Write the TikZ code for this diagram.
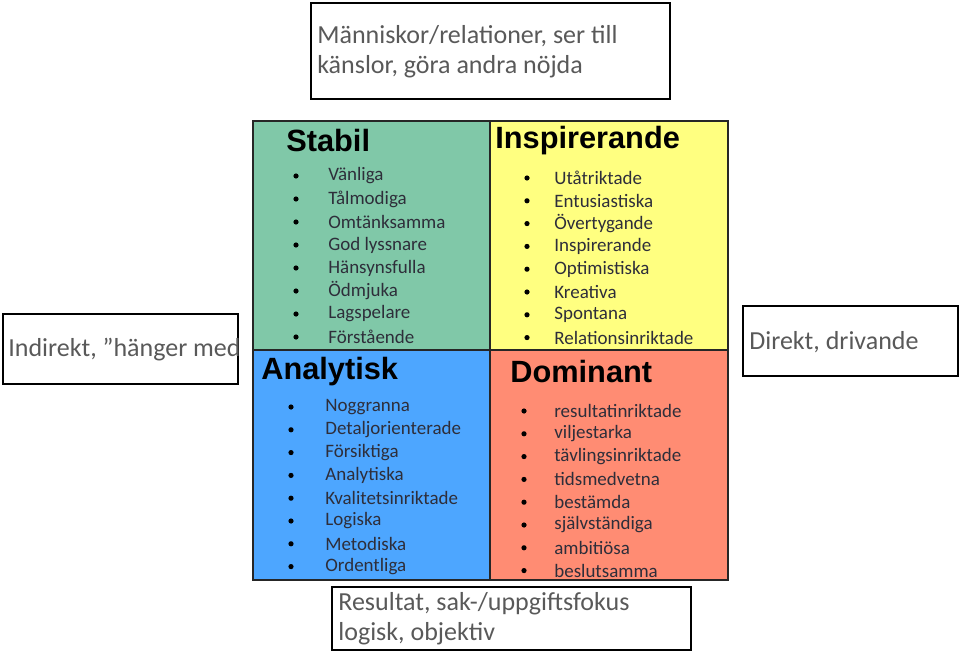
\documentclass[tikz,border=0pt]{standalone}
\usepackage{fontspec}
\setmainfont{Carlito}
\newfontfamily\headfont{Liberation Sans}
\usetikzlibrary{positioning}
\definecolor{stabilgreen}{HTML}{80C8A8}
\definecolor{inspyellow}{HTML}{FFFF80}
\definecolor{analblue}{HTML}{4DA6FF}
\definecolor{domred}{HTML}{FF8C73}
\definecolor{txtgray}{HTML}{595959}
\definecolor{itemtxt}{HTML}{2E2E3A}

\begin{document}
\begin{tikzpicture}[x=0.02cm,y=-0.02cm]
  \tikzstyle{quad}=[draw=black!85,line width=1.2pt]
  \tikzstyle{frame}=[draw=black,line width=1.5pt]
  \tikzstyle{head}=[anchor=west,font=\headfont\bfseries\fontsize{17.5}{19}\selectfont,text=black,inner sep=0pt]
  \tikzstyle{item}=[anchor=west,font=\fontsize{10.8}{12}\selectfont,text=itemtxt,inner sep=0pt]
  \tikzstyle{note}=[anchor=west,font=\fontsize{14.8}{17}\selectfont,text=txtgray,align=left,inner sep=0pt]

  \useasboundingbox (0,0) rectangle (960,652);

  % quadrants
  \fill[stabilgreen] (253,121) rectangle (490,350);
  \fill[inspyellow] (490,121) rectangle (728,350);
  \fill[analblue] (253,350) rectangle (490,580);
  \fill[domred] (490,350) rectangle (728,580);
  \draw[quad] (253,121) rectangle (490,350);
  \draw[quad] (490,121) rectangle (728,350);
  \draw[quad] (253,350) rectangle (490,580);
  \draw[quad] (490,350) rectangle (728,580);

  % headings
  \node[head] (stabil) at (286,141) {Stabil};
  \node[head] (insp) at (495,141) {Inspirerande};
  \node[head] (anal) at (261,372) {Analytisk};
  \node[head] (dom) at (510,372) {Dominant};

  % lists
  \foreach \t [count=\i] in {Vänliga,Tålmodiga,Omtänksamma,God lyssnare,Hänsynsfulla,Ödmjuka,Lagspelare,Förstående}
    {\fill (296,176+23*\i-23) circle (2.6);
     \node[item] at (328,176+23*\i-23) {\t};}
  \foreach \t [count=\i] in {Utåtriktade,Entusiastiska,Övertygande,Inspirerande,Optimistiska,Kreativa,Spontana,Relationsinriktade}
    {\fill (527,178+22.8*\i-22.8) circle (2.6);
     \node[item] at (554,178+22.8*\i-22.8) {\t};}
  \foreach \t [count=\i] in {Noggranna,Detaljorienterade,Försiktiga,Analytiska,Kvalitetsinriktade,Logiska,Metodiska,Ordentliga}
    {\fill (291,407+22.8*\i-22.8) circle (2.6);
     \node[item] at (325,407+22.8*\i-22.8) {\t};}
  \foreach \t [count=\i] in {resultatinriktade,viljestarka,tävlingsinriktade,tidsmedvetna,bestämda,självständiga,ambitiösa,beslutsamma}
    {\fill (524,411+22.8*\i-22.8) circle (2.6);
     \node[item] at (554,411+22.8*\i-22.8) {\t};}

  % side boxes
  \draw[frame] (311,3) rectangle (670,99);
  \node[note] (people) at (317,52) {Människor/relationer, ser till\\känslor, göra andra nöjda};
  \draw[frame] (3,314) rectangle (238,384);
  \node[note] (indirect) at (8,350) {Indirekt, ”hänger med};
  \draw[frame] (743,306) rectangle (958,376);
  \node[note] (direct) at (749,342) {Direkt, drivande};
  \draw[frame] (332,587) rectangle (691,650);
  \node[note] (result) at (338,619) {Resultat, sak-/uppgiftsfokus\\logisk, objektiv};
\end{tikzpicture}
\end{document}
